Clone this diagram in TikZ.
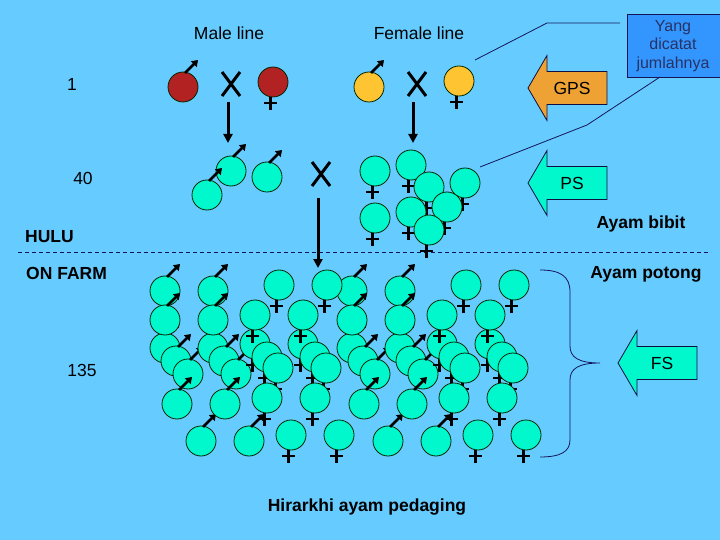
\documentclass[tikz,border=0pt]{standalone}
\usepackage{fontspec}
\setmainfont{Liberation Sans}
\usetikzlibrary{arrows.meta}
\definecolor{bgblue}{RGB}{102,204,255}
\definecolor{teal}{RGB}{0,248,204}
\definecolor{cred}{RGB}{178,34,34}
\definecolor{cyel}{RGB}{255,196,50}
\definecolor{corange}{RGB}{238,162,52}
\definecolor{cbox}{RGB}{51,150,255}
\definecolor{navy}{RGB}{20,20,90}
\definecolor{boxtext}{RGB}{40,50,100}
\tikzset{
  bird/.style={circle,draw=black!85!green,line width=0.8pt,minimum size=30pt,inner sep=0pt},
  marrow/.style={line width=2.6pt,-{Triangle[length=6pt,width=8pt]}},
  fsign/.style={line width=2.6pt},
  xline/.style={line width=3pt},
  darrow/.style={line width=3pt,-{Triangle[length=9pt,width=9pt]}},
  lbl/.style={font=\fontsize{17.5}{21}\selectfont,inner sep=0pt},
  blbl/.style={font=\fontsize{17.5}{21}\selectfont\bfseries,inner sep=0pt},
  leader/.style={draw=navy,line width=0.8pt},
  blockarr/.style={draw=navy!70!black,line width=0.8pt},
}
\newcommand{\mchick}[4]{%
  \node[bird,fill=#4] (#1) at (#2,#3) {};
  \draw[marrow] ([shift={(2,-14)}]#1.center) -- ([shift={(15,-27)}]#1.center);
}
\newcommand{\fchick}[4]{%
  \node[bird,fill=#4] (#1) at (#2,#3) {};
  \draw[fsign] ([shift={(-2.5,15)}]#1.center) -- ([shift={(-2.5,28)}]#1.center);
  \draw[fsign] ([shift={(-9,21)}]#1.center) -- ([shift={(4,21)}]#1.center);
}
\newcommand{\xmark}[3]{%
  \coordinate (#1) at (#2,#3);
  \draw[xline] ([shift={(-9,-12)}]#1) -- ([shift={(9,12)}]#1);
  \draw[xline] ([shift={(9,-12)}]#1) -- ([shift={(-9,12)}]#1);
}
% name, tip x, y, colour, text
\newcommand{\blockarrow}[5]{%
  \coordinate (#1) at (#2,#3);
  \fill[#4] (#1) -- ++(19,-32.5) -- ++(0,16) -- ++(60,0) -- ++(0,33) -- ++(-60,0) -- ++(0,16) -- cycle;
  \draw[blockarr] (#1) -- ++(19,-32.5) -- ++(0,16) -- ++(60,0) -- ++(0,33) -- ++(-60,0) -- ++(0,16) -- cycle;
  \node[lbl] (#1-t) at ([shift={(44,0)}]#1) {#5};
}
\begin{document}
\begin{tikzpicture}[x=1pt,y=-1pt]
\fill[bgblue] (0,0) rectangle (720,540);
\useasboundingbox (0,0) rectangle (720,540);

% titles and labels
\node[lbl] (tmale) at (229,33) {Male line};
\node[lbl] (tfemale) at (419,33) {Female line};
\node[lbl] (t1) at (72,84) {1};
\node[lbl] (t40) at (83,178) {40};
\node[blbl,anchor=west] (thulu) at (25,237) {HULU};
\node[blbl,anchor=west] (tfarm) at (26,273) {ON FARM};
\node[lbl] (t135) at (82,370) {135};
\node[blbl] (thir) at (367,507) {Hirarkhi ayam pedaging};
\node[blbl] (tbibit) at (641,224) {Ayam bibit};
\node[blbl] (tpotong) at (646,274) {Ayam potong};

% dashed separator
\coordinate (dl) at (18,252);
\coordinate (dr) at (711,252);
\draw[navy,line width=0.8pt,dash pattern=on 4pt off 3pt] (dl) -- (dr);

% GPS level
\mchick{gm}{183}{87}{cred}
\fchick{gf}{273}{82}{cred}
\xmark{x1}{231}{84}
\mchick{ym}{369}{87}{cyel}
\fchick{yf}{459}{81}{cyel}
\xmark{x2}{417}{84}

% arrows down
\coordinate (a1e) at (228,143);
\coordinate (a2e) at (413,143);
\draw[darrow] ([shift={(-3,18)}]x1) -- (a1e);
\draw[darrow] ([shift={(-4,18)}]x2) -- (a2e);

% PS level
\mchick{pm1}{231}{171}{teal}
\mchick{pm2}{207}{195}{teal}
\mchick{pm3}{267}{177}{teal}
\xmark{x3}{321}{174}
\fchick{pf1}{375}{171}{teal}
\fchick{pf2}{411}{165}{teal}
\fchick{pf3}{429}{187}{teal}
\fchick{pf4}{465}{183}{teal}
\fchick{pf5}{447}{207}{teal}
\fchick{pf6}{375}{218}{teal}
\fchick{pf7}{411}{212}{teal}
\fchick{pf8}{429}{230}{teal}

\coordinate (a3e) at (318,268);
\draw[darrow] ([shift={(-3,24)}]x3) -- (a3e);

% FS level: males
\foreach \hx in {0,187}{
  \foreach \cx in {0,48}{
    \foreach \dx/\dy/\k in {0/57/3,0/0/1,0/29/2,11/70/4,23/83/5,12/113/6,36/150/7}{
      \mchick{m-\hx-\cx-\k}{165+\hx+\cx+\dx}{291+\dy}{teal}
    }
  }
}
% FS level: females
\foreach \hx in {0,187}{
  \foreach \cx in {0,48}{
    \foreach \dx/\dy/\k in {0/29/3,24/-30/1,0/0/2,12/42/4,23/53/5,12/83/6,36/120/7}{
      \fchick{f-\hx-\cx-\k}{255+\hx+\cx+\dx}{315+\dy}{teal}
    }
  }
}

% block arrows
\blockarrow{gps}{528}{88}{corange}{GPS}
\blockarrow{ps}{528}{183}{teal}{PS}
\blockarrow{fs}{618}{363}{teal}{FS}

% brace
\coordinate (bt) at (540,270);
\coordinate (bb) at (540,457);
\draw[navy,line width=0.8pt] (bt) .. controls (560,270) and (570,276) .. (570,292)
  -- (570,346) .. controls (570,357) and (578,363) .. (600,363)
  .. controls (578,363) and (570,369) .. (570,380)
  -- (570,440) .. controls (570,452) and (560,457) .. (bb);

% callout
\node[draw=navy,line width=0.8pt,fill=cbox,minimum width=96pt,minimum height=63pt,inner sep=0pt,anchor=north west] (box) at (627,14) {};
\node[font=\fontsize{16}{18.3}\selectfont,text=boxtext,align=center,inner sep=0pt] (boxt) at (673,46) {Yang\\dicatat\\jumlahnya};
\coordinate (l1a) at (620,23);
\coordinate (l1b) at (547,23);
\coordinate (l1c) at (475,60);
\coordinate (l2a) at (660,77);
\coordinate (l2b) at (587,125);
\coordinate (l2c) at (480,167);
\draw[leader] (l1a) -- (l1b) -- (l1c);
\draw[leader] (l2a) -- (l2b) -- (l2c);
\end{tikzpicture}
\end{document}
